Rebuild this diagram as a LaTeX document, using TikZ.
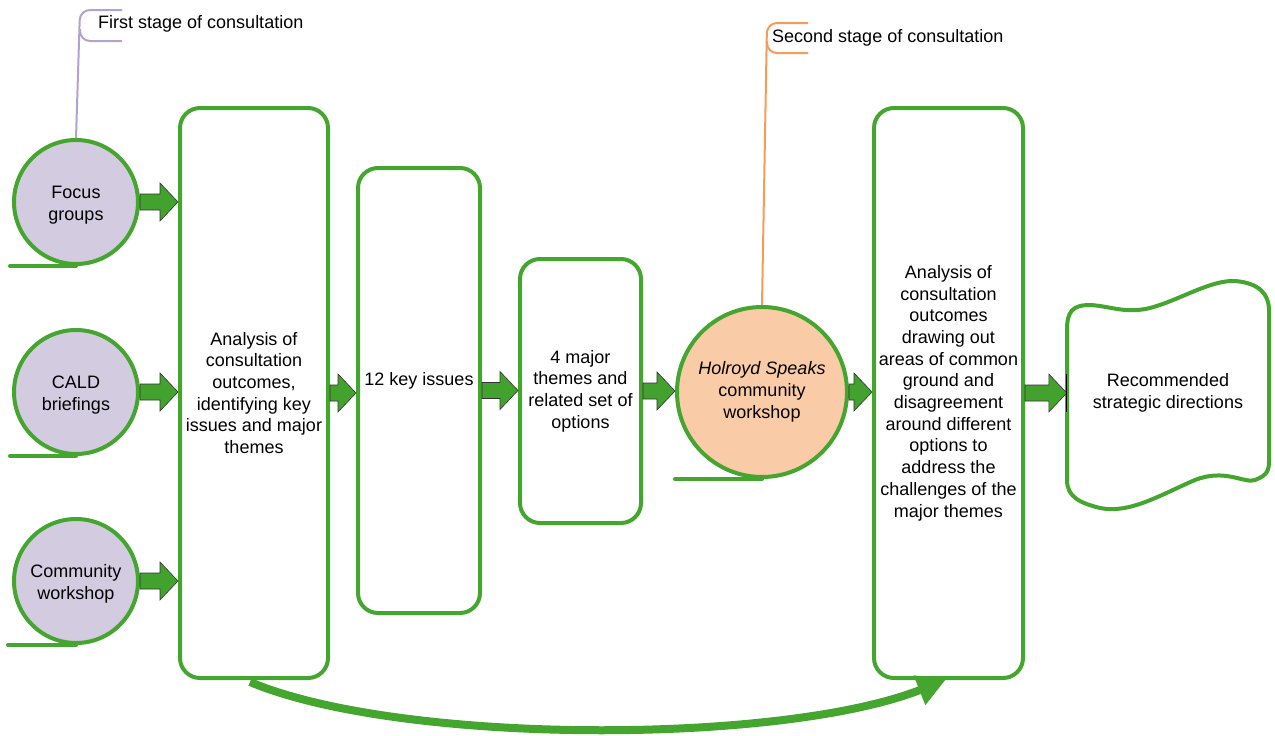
\documentclass[tikz,border=0pt]{standalone}
\usepackage{fontspec}
\setmainfont{Liberation Sans}
\usetikzlibrary{arrows.meta,calc}
\definecolor{lgreen}{HTML}{44A52F}
\definecolor{agreen}{HTML}{43A22E}
\definecolor{lav}{HTML}{D3CBE0}
\definecolor{peach}{HTML}{F9CBA6}
\definecolor{lavline}{HTML}{B2A3CE}
\definecolor{orline}{HTML}{F79B57}
\begin{document}
\begin{tikzpicture}[x=1pt,y=-1pt, font=\fontsize{18}{21.7}\selectfont,
 srcircle/.style={circle, draw=lgreen, line width=4pt, fill=lav, inner sep=0pt, minimum size=124pt, align=center},
 stagebox/.style={draw=lgreen, line width=4pt, rounded corners=20pt, inner sep=0pt, align=center, fill=white},
 underline/.style={draw=lgreen, line width=4pt, line cap=round},
 callout/.style={line width=2pt, rounded corners=10pt},
 blockarrow/.style={draw=black!80, line width=0.6pt, fill=agreen, line join=miter,
   to path={let \p1=(\tikztostart), \p2=(\tikztotarget) in
     (\x1,\y1+8pt) -- (\x2-18pt,\y1+8pt) -- (\x2-18pt,\y1+19pt) -- (\x2,\y1)
     -- (\x2-18pt,\y1-19pt) -- (\x2-18pt,\y1-8pt) -- (\x1,\y1-8pt) -- cycle}},
]
\useasboundingbox (0,0) rectangle (1275,736);

% callouts
\coordinate (c1a) at (80,10);
\coordinate (c1b) at (122,10);
\coordinate (c1c) at (122,41);
\coordinate (c1d) at (80,41);
\coordinate (c1e) at (80,29);
\coordinate (c2a) at (767,23);
\coordinate (c2b) at (808,23);
\coordinate (c2c) at (808,53);
\coordinate (c2d) at (767,53);
\coordinate (c2e) at (767,41);

% source circles
\node[srcircle] (fg) at (76,202) {\raisebox{-3pt}[\height][\depth]{Focus}\\\raisebox{-3pt}[\height][\depth]{groups}};
\node[srcircle] (cald) at (76,392) {\raisebox{-3pt}[\height][\depth]{CALD}\\\raisebox{-3pt}[\height][\depth]{briefings}};
\node[srcircle] (cw) at (76,581) {\raisebox{-3pt}[\height][\depth]{Community}\\\raisebox{-3pt}[\height][\depth]{workshop}};

\draw[callout, lavline] (fg.north) -- (c1a) -- (c1b);
\draw[callout, lavline] (c1c) -- (c1d) -- (c1e);
\node[anchor=west, inner sep=0pt] (t1) at (98,24) {First stage of consultation};

\draw[underline] (fg.south) -- ++(-66,0);
\draw[underline] (cald.south) -- ++(-66,0);
\draw[underline] (cw.south) -- ++(-68,0);

% boxes
\node[stagebox, minimum width=148pt, minimum height=570pt] (b1) at (254,393)
  {Analysis of\\consultation\\outcomes,\\identifying key\\issues and major\\themes};
\node[stagebox, minimum width=122pt, minimum height=445pt] (b2) at (419,390.5)
  {\raisebox{10pt}[\height][\depth]{12 key issues}};
\node[stagebox, minimum width=121pt, minimum height=264pt] (b3) at (580.5,391)
  {4 major\\themes and\\related set of\\options};

\node[srcircle, fill=peach, minimum size=170pt] (hol) at (762,392)
  {\textit{Holroyd Speaks}\\community\\workshop};
\draw[callout, orline] (hol.north) -- (c2a) -- (c2b);
\draw[callout, orline] (c2c) -- (c2d) -- (c2e);
\node[anchor=west, inner sep=0pt] (t2) at (772,38) {Second stage of consultation};
\draw[underline] (hol.south) -- ++(-87,0);

\node[stagebox, minimum width=149pt, minimum height=570pt] (b4) at (948.5,393)
  {Analysis of\\consultation\\outcomes\\drawing out\\areas of common\\ground and\\disagreement\\around different\\options to\\address the\\challenges of the\\major themes};

% wavy document shape
\draw[draw=lgreen, line width=4pt, fill=white]
  (1067,330) -- (1067,480)
  .. controls (1067,497) and (1080,503) .. (1100,508)
  .. controls (1130,514) and (1160,495) .. (1195,480)
  .. controls (1225,468) and (1245,484) .. (1255,480)
  .. controls (1268,475) and (1269,470) .. (1269,460)
  -- (1269,310)
  .. controls (1269,295) and (1260,283) .. (1235,281)
  .. controls (1210,280) and (1180,300) .. (1150,308)
  .. controls (1125,314) and (1110,306) .. (1090,305)
  .. controls (1072,305) and (1067,312) .. (1067,330) -- cycle;
\node[minimum width=202pt, inner sep=0pt, align=center] (wave) at (1168,393)
  {Recommended\\strategic directions};

% block arrows
\draw[blockarrow] (fg.east) to (b1.west);
\draw[blockarrow] (cald.east) to (b1.west);
\draw[blockarrow] (cw.east) to (b1.west);
\draw[blockarrow] (b1.east) to (b2.west);
\draw[blockarrow] (b2.east) to (b3.west);
\draw[blockarrow] (b3.east) to (hol.west);
\draw[blockarrow] (hol.east) to (b4.west);
\draw[blockarrow] (b4.east) to (wave.west);
\draw[black, line width=1.2pt] ($(wave.west)+(0,-19)$) -- ($(wave.west)+(0,19)$);

% bottom curved arrow
\draw[lgreen, line width=8pt, -{Triangle[length=28pt,width=30pt]}]
  ($(b1.south)+(-4,2)$) .. controls (400,745) and (780,745) .. ($(b4.south)+(-3,0)$);
\end{tikzpicture}
\end{document}
